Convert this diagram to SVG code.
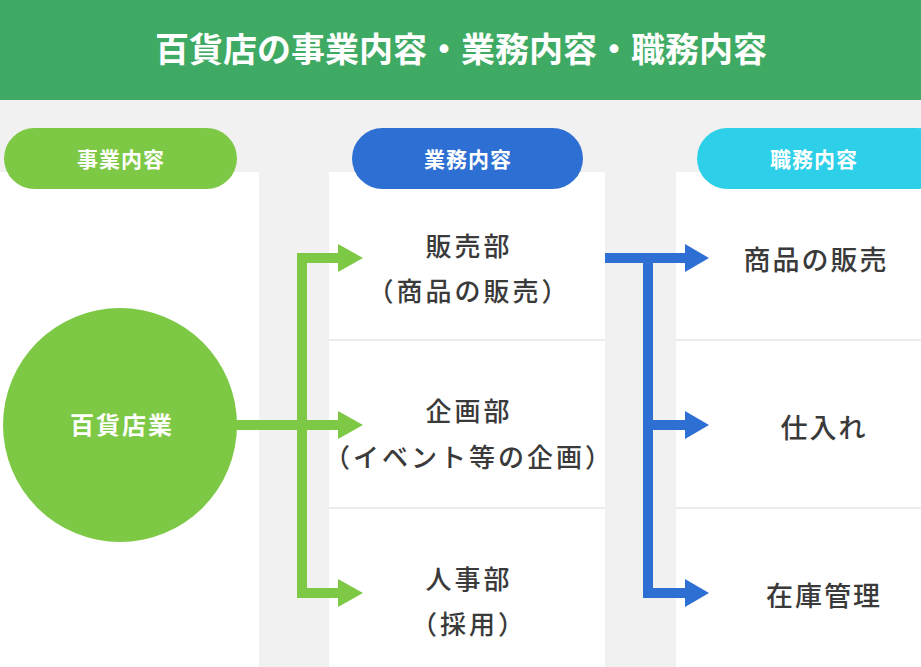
<svg xmlns="http://www.w3.org/2000/svg" width="921" height="667" viewBox="0 0 921 667">
<defs>
<style>
.jp{font-family:"Noto Sans CJK JP","Noto Sans",sans-serif;}
.title{font-size:34px;font-weight:bold;fill:#ffffff;}
.pill{font-size:21px;font-weight:bold;fill:#ffffff;letter-spacing:1px;}
.body{font-size:26px;font-weight:500;fill:#3a3a3a;letter-spacing:3px;}
.job{font-size:27px;font-weight:500;fill:#3a3a3a;letter-spacing:2px;}
.col{fill:#ffffff;}
.div{stroke:#ececec;stroke-width:2;}
.g{stroke:#7dc845;stroke-width:10;fill:none;}
.b{stroke:#2e6fd3;stroke-width:10;fill:none;}
</style>
<marker id="ag" markerUnits="userSpaceOnUse" markerWidth="26" markerHeight="30" refX="0" refY="14" orient="auto">
<path d="M0,0 L25,14 L0,28 Z" fill="#7dc845"/>
</marker>
<marker id="ab" markerUnits="userSpaceOnUse" markerWidth="26" markerHeight="30" refX="0" refY="14" orient="auto">
<path d="M0,0 L24,14 L0,28 Z" fill="#2e6fd3"/>
</marker>
</defs>
<rect x="0" y="0" width="921" height="667" fill="#f1f1f1"/>
<g id="header">
<rect x="0" y="0" width="921" height="100" fill="#3eaa63"/>
<text class="jp title" x="461" y="62" text-anchor="middle">百貨店の事業内容・業務内容・職務内容</text>
</g>
<g id="columns">
<rect class="col" x="0" y="172" width="259" height="495"/>
<rect class="col" x="329" y="172" width="276" height="495"/>
<rect class="col" x="676" y="172" width="245" height="495"/>
<line class="div" x1="329" y1="340" x2="605" y2="340"/>
<line class="div" x1="329" y1="508" x2="605" y2="508"/>
<line class="div" x1="676" y1="340" x2="921" y2="340"/>
<line class="div" x1="676" y1="508" x2="921" y2="508"/>
</g>
<g id="pill-jigyo">
<rect x="4" y="128" width="233" height="61" rx="30.5" fill="#7dc845"/>
<text class="jp pill" x="121" y="167" text-anchor="middle">事業内容</text>
</g>
<g id="pill-gyomu">
<rect x="352" y="128" width="231" height="61" rx="30.5" fill="#2e6fd3"/>
<text class="jp pill" x="468" y="167" text-anchor="middle">業務内容</text>
</g>
<g id="pill-shokumu">
<rect x="697" y="128" width="250" height="61" rx="30.5" fill="#2dd0e8"/>
<text class="jp pill" x="814" y="167" text-anchor="middle">職務内容</text>
</g>
<g id="node-hyakkaten">
<circle cx="120" cy="425" r="117" fill="#7dc845"/>
<text class="jp" x="122" y="434" text-anchor="middle" font-size="24" font-weight="bold" fill="#ffffff" letter-spacing="2">百貨店業</text>
</g>
<g id="node-hanbaibu">
<text class="jp body" x="469" y="256" text-anchor="middle">販売部</text>
<text class="jp body" x="469" y="301" text-anchor="middle">（商品の販売）</text>
</g>
<g id="node-kikakubu">
<text class="jp body" x="469" y="421" text-anchor="middle">企画部</text>
<text class="jp body" x="469" y="467" text-anchor="middle">（イベント等の企画）</text>
</g>
<g id="node-jinjibu">
<text class="jp body" x="469" y="589" text-anchor="middle">人事部</text>
<text class="jp body" x="469" y="634" text-anchor="middle">（採用）</text>
</g>
<g id="node-shohin">
<text class="jp job" x="816" y="270" text-anchor="middle">商品の販売</text>
</g>
<g id="node-shiire">
<text class="jp job" x="824" y="438" text-anchor="middle">仕入れ</text>
</g>
<g id="node-zaiko">
<text class="jp job" x="824" y="606" text-anchor="middle">在庫管理</text>
</g>
<g id="connectors">
<path class="g" d="M302,253 V598"/>
<path class="g" d="M297,258 H338" marker-end="url(#ag)"/>
<path class="g" d="M230,425 H338" marker-end="url(#ag)"/>
<path class="g" d="M297,593 H338" marker-end="url(#ag)"/>
<path class="b" d="M648,253 V598"/>
<path class="b" d="M605,258 H685" marker-end="url(#ab)"/>
<path class="b" d="M643,425 H685" marker-end="url(#ab)"/>
<path class="b" d="M643,593 H685" marker-end="url(#ab)"/>
</g>
</svg>
